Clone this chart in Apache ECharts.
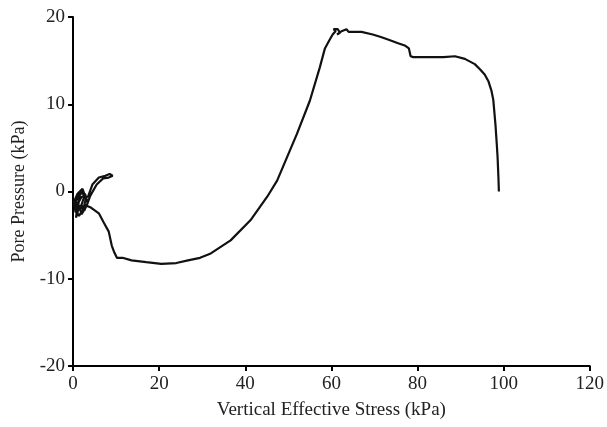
<!DOCTYPE html>
<html>
<head>
<meta charset="utf-8">
<script src="https://cdn.jsdelivr.net/npm/echarts@6/dist/echarts.min.js"></script>
<style>html,body{margin:0;padding:0;background:#fff}#c{width:607px;height:427px}</style>
</head>
<body>
<div id="c"></div>
<script>
var xTicks = [0, 20, 40, 60, 80, 100, 120];
var yTicks = [-20, -10, 0, 10, 20];
var stress = [0.3,1.2,2.0,2.6,1.8,0.6,0.2,1.0,2.2,3.0,2.4,1.4,0.5,0.9,1.6,1.2,0.4,0.8,1.9,2.8,3.4,2.6,1.5,0.7,1.1,2.0,3.5,4.5,6.0,7.5,8.5,9.2,8.3,7.0,5.5,4.0,3.2,2.0,1.5,3.0,4.0,6.0,7.2,8.3,9.0,9.6,10.2,11.5,13.6,17.0,20.5,24.0,26.7,29.5,32.0,36.6,41.2,45.1,47.4,52.0,55.0,57.3,58.5,59.6,60.3,61.0,60.5,61.5,62.0,61.3,62.5,63.5,64.0,65.7,67.0,69.6,71.5,73.3,75.5,77.2,78.0,78.4,79.0,82.0,86.0,88.7,91.0,93.3,94.5,95.6,96.5,97.2,97.6,98.1,98.4,98.6,98.8,98.9];
var pore =   [-1.0,-0.4,0.1,-0.6,-1.8,-2.4,-1.2,-0.3,0.3,-0.8,-2.0,-2.8,-2.0,-0.8,-0.5,-1.6,-1.9,-1.0,-0.2,-0.3,-1.3,-2.2,-1.6,-3.0,-1.4,-0.6,-0.6,0.8,1.6,1.8,2.0,1.8,1.6,1.5,0.8,-0.5,-1.6,-2.6,-1.8,-1.6,-1.8,-2.5,-3.6,-4.6,-6.2,-7.0,-7.6,-7.6,-7.9,-8.1,-8.3,-8.2,-7.9,-7.6,-7.1,-5.6,-3.3,-0.6,1.25,6.6,10.4,14.2,16.4,17.4,18.0,18.4,18.6,18.6,18.2,18.0,18.4,18.6,18.3,18.3,18.3,18.0,17.7,17.4,17.0,16.7,16.4,15.5,15.4,15.4,15.4,15.5,15.2,14.6,14.0,13.4,12.6,11.5,10.5,7.7,5.5,3.9,1.5,0.0];
var pts = stress.map(function(v,i){return [v, pore[i]];});
var chart = echarts.init(document.getElementById('c'));
var font = 'Liberation Serif';
chart.setOption({
  animation: false,
  grid: {left: 73, right: 12, top: 17, bottom: 61},
  xAxis: {
    type: 'value', min: 0, max: 120, interval: 20,
    name: 'Vertical Effective Stress (kPa)', nameLocation: 'middle', nameGap: 35,
    nameTextStyle: {fontFamily: font, fontSize: 19, color: '#222'},
    axisLine: {onZero: false, lineStyle: {color: '#000', width: 2}},
    axisTick: {length: 5, lineStyle: {color: '#000', width: 2}},
    axisLabel: {fontFamily: font, fontSize: 19, color: '#222', margin: 9},
    splitLine: {show: false}
  },
  yAxis: {
    type: 'value', min: -20, max: 20, interval: 10,
    name: 'Pore Pressure (kPa)', nameLocation: 'middle', nameGap: 45,
    nameTextStyle: {fontFamily: font, fontSize: 18, color: '#222'},
    axisLine: {show: true, onZero: false, lineStyle: {color: '#000', width: 2}},
    axisTick: {show: true, length: 5, lineStyle: {color: '#000', width: 2}},
    axisLabel: {fontFamily: font, fontSize: 19, color: '#222', margin: 8},
    splitLine: {show: false}
  },
  series: [{
    type: 'line', data: pts, showSymbol: false, smooth: false,
    lineStyle: {color: '#111', width: 2.2}
  }]
});
</script>
</body>
</html>
